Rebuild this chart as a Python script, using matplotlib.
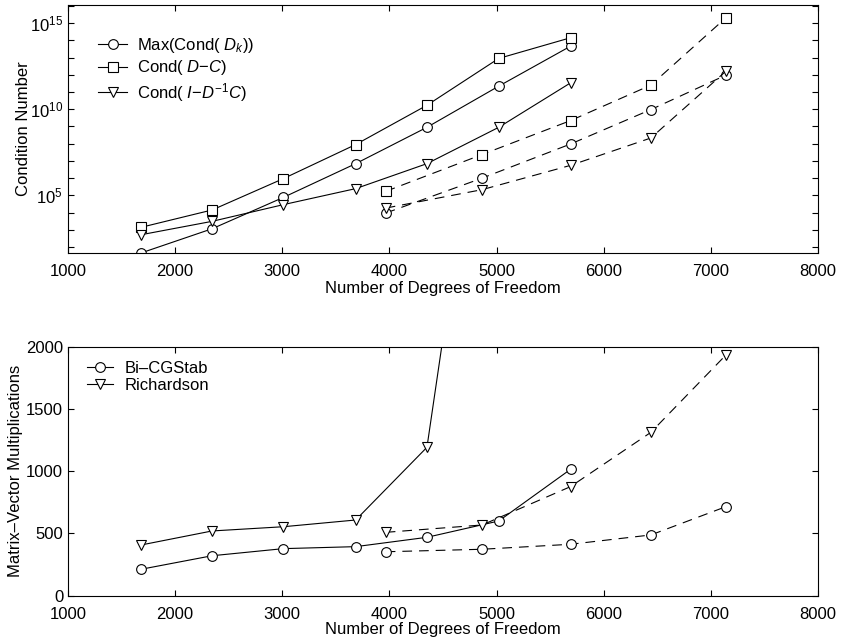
import matplotlib
matplotlib.use("Agg")
import matplotlib.pyplot as plt
import numpy as np

plt.rcParams['font.family'] = ['Liberation Sans', 'DejaVu Sans']
plt.rcParams['mathtext.fontset'] = 'custom'
plt.rcParams['mathtext.rm'] = 'Liberation Sans'
plt.rcParams['mathtext.it'] = 'Liberation Sans:italic'
plt.rcParams['font.size'] = 12
plt.rcParams['lines.scale_dashes'] = False

# x values (degrees of freedom)
dof_solid = [1680, 2345, 3010, 3685, 4350, 5020, 5690]
dof_dash = [3965, 4865, 5690, 6440, 7140]

# top panel: log10 of condition numbers
maxcond_solid = [1.65, 3.06, 4.88, 6.84, 8.95, 11.34, 13.66]
dc_solid = [3.14, 4.15, 5.97, 7.95, 10.23, 12.95, 14.15]
idc_solid = [2.71, 3.49, 4.46, 5.39, 6.84, 8.95, 11.53]
maxcond_dash = [3.97, 6.0, 7.98, 9.98, 11.98]
dc_dash = [5.23, 7.37, 9.34, 11.40, 15.31]
idc_dash = [4.26, 5.33, 6.74, 8.33, 12.21]

# bottom panel: matrix-vector multiplications
bicg_solid = [212, 321, 378, 394, 469, 600, 1015]
rich_solid = [407, 520, 554, 608, 1192, 5120]
bicg_dash = [353, 373, 413, 488, 715]
rich_dash = [509, 568, 876, 1312, 1933]

dash = (0, (7, 5))
kw = dict(color='k', lw=0.8, ms=7, mfc='white', mec='k', mew=0.8)

fig = plt.figure(figsize=(8.5, 6.38), dpi=100)
ax1 = fig.add_axes([0.08, 0.6034, 0.8824, 0.3887])
ax2 = fig.add_axes([0.08, 0.0663, 0.8824, 0.3903])

p = lambda v: 10.0 ** np.array(v)
ax1.semilogy(dof_solid, p(maxcond_solid), marker='o', ls='-', label=r'Max(Cond( $D_k$))', **kw)
ax1.semilogy(dof_solid, p(dc_solid), marker='s', ls='-', label=r'Cond( $D{-}C$)', **kw)
ax1.semilogy(dof_solid, p(idc_solid), marker='v', ls='-', label=r'Cond( $I{-}D^{-1}C$)', **kw)
ax1.semilogy(dof_dash, p(maxcond_dash), marker='o', ls=dash, **kw)
ax1.semilogy(dof_dash, p(dc_dash), marker='s', ls=dash, **kw)
ax1.semilogy(dof_dash, p(idc_dash), marker='v', ls=dash, **kw)
ax1.set_xlim(1000, 8000)
ax1.set_ylim(10 ** 1.65, 10 ** 16.05)
ax1.set_yticks([1e5, 1e10, 1e15])
ax1.set_yticks([10.0 ** k for k in range(2, 17)], minor=True)
ax1.yaxis.set_minor_formatter(matplotlib.ticker.NullFormatter())
ax1.set_xlabel('Number of Degrees of Freedom', labelpad=1)
ax1.set_ylabel('Condition Number', labelpad=-1)
ax1.legend(loc='upper left', bbox_to_anchor=(0.04, 0.875), frameon=False,
           borderaxespad=0, borderpad=0,
           handlelength=1.75, handletextpad=0.6, labelspacing=0.2)

ax2.plot(dof_solid, bicg_solid, marker='o', ls='-', label='Bi\u2013CGStab', **kw)
ax2.plot(dof_solid[:6], rich_solid, marker='v', ls='-', label='Richardson', **kw)
ax2.plot(dof_dash, bicg_dash, marker='o', ls=dash, **kw)
ax2.plot(dof_dash, rich_dash, marker='v', ls=dash, **kw)
ax2.set_xlim(1000, 8000)
ax2.set_ylim(0, 2000)
ax2.set_yticks([0, 500, 1000, 1500, 2000])
ax2.set_xlabel('Number of Degrees of Freedom', labelpad=0)
ax2.set_ylabel('Matrix\u2013Vector Multiplications', labelpad=2)
ax2.legend(loc='upper left', bbox_to_anchor=(0.025, 0.944), frameon=False,
           borderaxespad=0, borderpad=0,
           handlelength=1.6, handletextpad=0.7, labelspacing=0.15)

for ax in (ax1, ax2):
    ax.set_xticks(range(1000, 8001, 1000))
    ax.tick_params(which='both', direction='in', top=True, right=True, length=4, width=0.8)
    ax.tick_params(axis='x', pad=8)
    for s in ax.spines.values():
        s.set_linewidth(0.8)

fig.savefig('out.png', dpi=100)
